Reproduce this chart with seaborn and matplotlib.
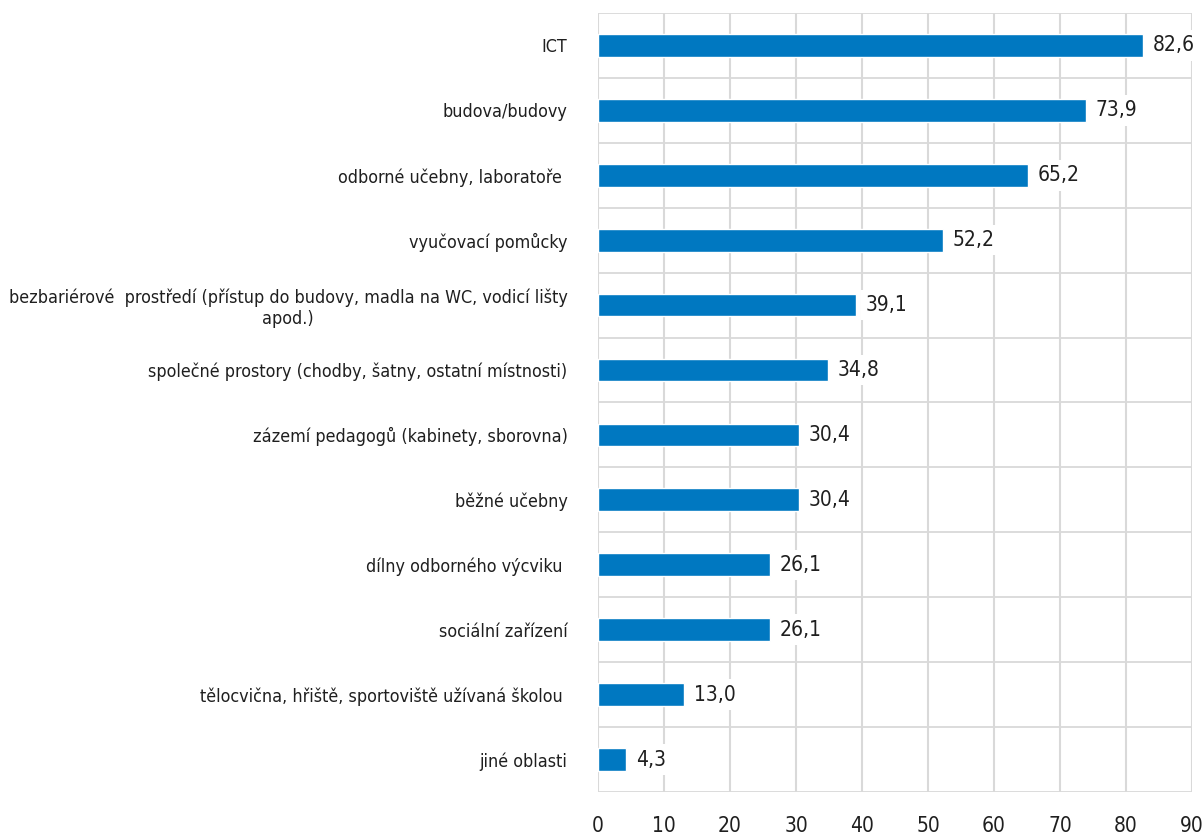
import matplotlib
matplotlib.use("Agg")
import matplotlib.pyplot as plt
from matplotlib import font_manager
import seaborn as sns
import pandas as pd

categories = [
    "ICT",
    "budova/budovy",
    "odborné učebny, laboratoře ",
    "vyučovací pomůcky",
    "bezbariérové  prostředí (přístup do budovy, madla na WC, vodicí lišty\napod.)",
    "společné prostory (chodby, šatny, ostatní místnosti)",
    "zázemí pedagogů (kabinety, sborovna)",
    "běžné učebny",
    "dílny odborného výcviku ",
    "sociální zařízení",
    "tělocvična, hřiště, sportoviště užívaná školou ",
    "jiné oblasti",
]
values = [82.6, 73.9, 65.2, 52.2, 39.1, 34.8, 30.4, 30.4, 26.1, 26.1, 13.0, 4.3]
value_labels = ["82,6", "73,9", "65,2", "52,2", "39,1", "34,8", "30,4", "30,4", "26,1", "26,1", "13,0", "4,3"]
x_ticks = [0, 10, 20, 30, 40, 50, 60, 70, 80, 90]

df = pd.DataFrame({"oblast": categories, "podil": values})

sns.set_style("white")
plt.rcParams['font.family'] = ['DejaVu Sans']
plt.rcParams['font.stretch'] = 'condensed'
# use a condensed face if there is one, otherwise shrink text a bit
path = font_manager.findfont(font_manager.FontProperties(family="DejaVu Sans", stretch="condensed"))
cond = "Condensed" in path
fs = 12.9 if cond else 11.5
fs_num = 15 if cond else 13.5
text_color = "#1f1f1f"
grid_color = "#d9d9d9"

fig = plt.figure(figsize=(12.02, 8.34), dpi=100)
ax = fig.add_axes([0.4975, 0.0504, 0.4942, 0.934])

sns.barplot(data=df, y="oblast", x="podil", orient="h", color="#0078c1",
            width=0.35, saturation=1, ax=ax, zorder=3)

ax.set_xlim(0, 90)
ax.set_ylim(len(categories) - 0.5, -0.5)
ax.set_xticks(x_ticks)
ax.set_xticklabels([str(t) for t in x_ticks], fontsize=fs_num, color=text_color)
ax.set_yticks(range(len(categories)))
ax.set_yticklabels(categories, fontsize=fs, color=text_color)
for lab in ax.get_yticklabels():
    lab.set_multialignment("center")
ax.tick_params(axis="y", length=0, pad=22)
ax.tick_params(axis="x", length=0, pad=17)

# grid: vertical at ticks, horizontal at category boundaries
for t in x_ticks:
    ax.axvline(t, color=grid_color, lw=1.5, zorder=1)
for b in range(len(categories) + 1):
    ax.axhline(b - 0.5, color=grid_color, lw=1.3, zorder=1)
for s in ax.spines.values():
    s.set_visible(False)

for i, (v, lab) in enumerate(zip(values, value_labels)):
    ax.annotate(lab, (v, i), xytext=(7, 0), textcoords="offset points",
                va="center", ha="left", fontsize=fs_num, color=text_color, zorder=4,
                bbox=dict(boxstyle="square,pad=0.25", fc="white", ec="none"))

ax.set_xlabel("")
ax.set_ylabel("")
fig.savefig("out.png", dpi=100)
